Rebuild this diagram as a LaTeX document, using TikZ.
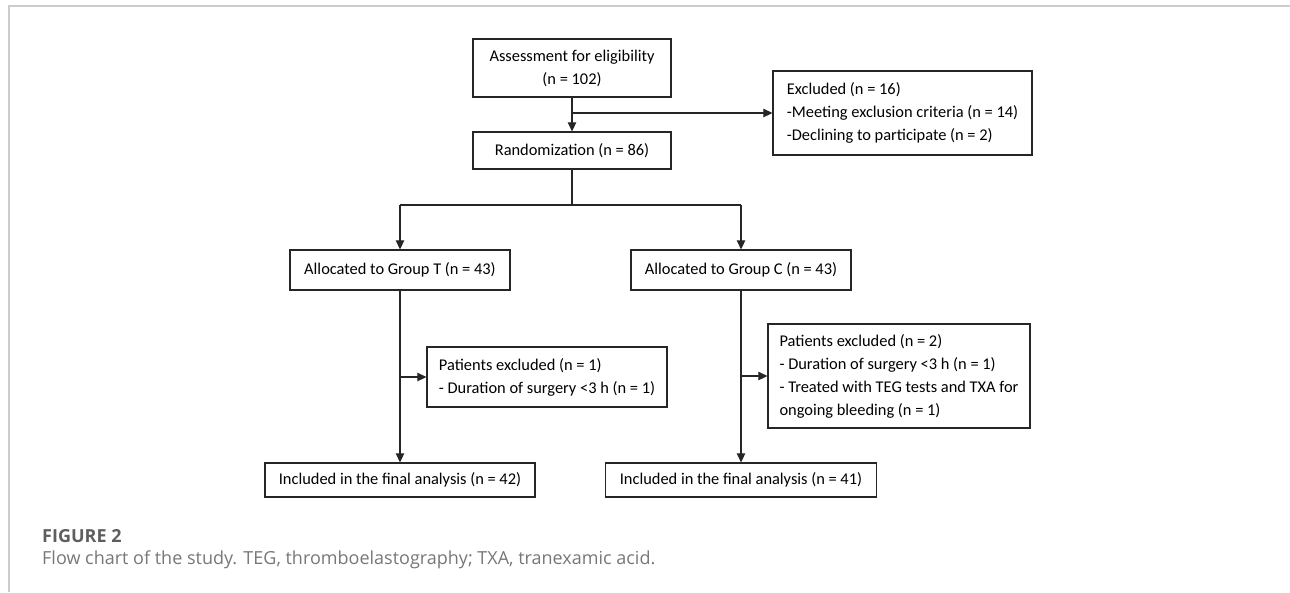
\documentclass[tikz,border=0pt]{standalone}
\usepackage{fontspec}
\setmainfont{Carlito}
\newfontfamily\captionfont{Open Sans}
\usetikzlibrary{arrows.meta}
\definecolor{framegray}{HTML}{CCCCCC}
\definecolor{figgray}{HTML}{5E5E5E}
\definecolor{capgray}{HTML}{777777}
\tikzset{
  flowbox/.style={rectangle, draw=black!85, line width=1.3pt, inner sep=0pt,
    font=\fontsize{16.4}{23}\selectfont},
  flowline/.style={draw=black!85, line width=1.2pt},
  flowarrow/.style={flowline, -{Triangle[length=9pt,width=8.5pt]}},
}
\newcommand{\flowbox}[4] {\node at (#1) (#2) [flowbox, #3] {#4};}
\newcommand{\flowtransition}[2] {\draw [flowarrow] (#1) -- (#2);}
\begin{document}
\begin{tikzpicture}[x=1pt,y=-1pt]
\useasboundingbox (0,0) rectangle (1290,592);
\draw [framegray, line width=2pt] (9,592) -- (9,6) -- (1290,6);

\flowbox {572,68}{assess}{minimum width=198pt, minimum height=58pt, align=center}{Assessment for eligibility\\(n = 102)}
\flowbox {572,150.5}{random}{minimum width=198pt, minimum height=37pt}{Randomization (n = 86)}
\flowbox {902.5,113}{excluded}{minimum width=259pt, minimum height=84pt, align=left}{Excluded (n = 16)\\-Meeting exclusion criteria (n = 14)\\-Declining to participate (n = 2)}
\coordinate (split) at (572,205);
\coordinate (splitT) at (400,205);
\coordinate (splitC) at (741,205);
\flowbox {400,270}{groupT}{minimum width=220pt, minimum height=40pt}{Allocated to Group T (n = 43)}
\flowbox {741,270}{groupC}{minimum width=220pt, minimum height=40pt}{Allocated to Group C (n = 43)}
\flowbox {547,377}{exclT}{minimum width=240pt, minimum height=60pt, align=left}{Patients excluded (n = 1)\\- Duration of surgery <3 h (n = 1)}
\flowbox {899,376}{exclC}{minimum width=262pt, minimum height=104pt, align=left}{Patients excluded (n = 2)\\- Duration of surgery <3 h (n = 1)\\- Treated with TEG tests and TXA for\\ongoing bleeding (n = 1)}
\flowbox {400,480}{finalT}{minimum width=270pt, minimum height=34pt}{Included in the final analysis (n = 42)}
\flowbox {741,480}{finalC}{minimum width=271pt, minimum height=34pt}{Included in the final analysis (n = 41)}

\flowtransition {assess}{random}
\flowtransition {assess.south |- excluded.west}{excluded.west}
\draw [flowline] (random) -- (split);
\draw [flowline] (splitT) -- (splitC);
\flowtransition {splitT}{groupT}
\flowtransition {splitC}{groupC}
\flowtransition {groupT}{finalT}
\flowtransition {groupC}{finalC}
\flowtransition {groupT.south |- exclT.west}{exclT.west}
\flowtransition {groupC.south |- exclC.west}{exclC.west}

\node [anchor=west, inner sep=0pt, text=figgray, font=\captionfont\bfseries\fontsize{18}{20}\selectfont] (figlabel) at (42,536) {FIGURE 2};
\node [anchor=west, inner sep=0pt, text=capgray, font=\captionfont\fontsize{18}{20}\selectfont] (figcaption) at (42,560) {Flow chart of the study. TEG, thromboelastography; TXA, tranexamic acid.};
\end{tikzpicture}
\end{document}
